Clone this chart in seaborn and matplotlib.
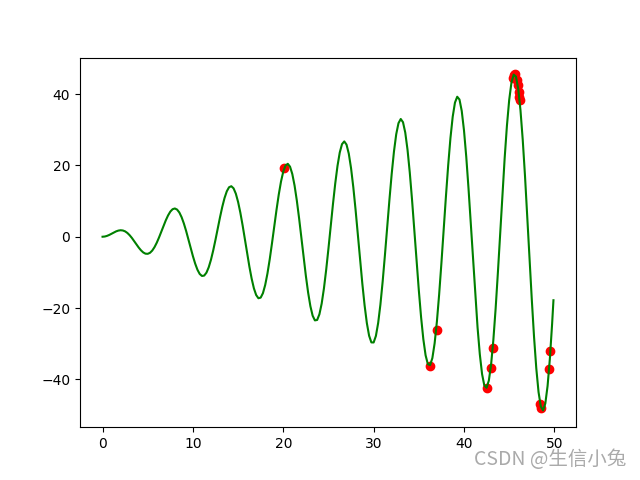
import matplotlib
matplotlib.use("Agg")
import matplotlib.pyplot as plt
import seaborn as sns
import pandas as pd

# curve samples
x_line = [0.0, 0.25, 0.5, 0.75, 1.0, 1.25, 1.5, 1.75, 2.0, 2.25, 2.5, 2.75, 3.0, 3.25, 3.5, 3.75,
          4.0, 4.25, 4.5, 4.75, 5.0, 5.25, 5.5, 5.75, 6.0, 6.25, 6.5, 6.75, 7.0, 7.25, 7.5, 7.75,
          8.0, 8.25, 8.5, 8.75, 9.0, 9.25, 9.5, 9.75, 10.0, 10.25, 10.5, 10.75, 11.0, 11.25, 11.5, 11.75,
          12.0, 12.25, 12.5, 12.75, 13.0, 13.25, 13.5, 13.75, 14.0, 14.25, 14.5, 14.75, 15.0, 15.25, 15.5, 15.75,
          16.0, 16.25, 16.5, 16.75, 17.0, 17.25, 17.5, 17.75, 18.0, 18.25, 18.5, 18.75, 19.0, 19.25, 19.5, 19.75,
          20.0, 20.25, 20.5, 20.75, 21.0, 21.25, 21.5, 21.75, 22.0, 22.25, 22.5, 22.75, 23.0, 23.25, 23.5, 23.75,
          24.0, 24.25, 24.5, 24.75, 25.0, 25.25, 25.5, 25.75, 26.0, 26.25, 26.5, 26.75, 27.0, 27.25, 27.5, 27.75,
          28.0, 28.25, 28.5, 28.75, 29.0, 29.25, 29.5, 29.75, 30.0, 30.25, 30.5, 30.75, 31.0, 31.25, 31.5, 31.75,
          32.0, 32.25, 32.5, 32.75, 33.0, 33.25, 33.5, 33.75, 34.0, 34.25, 34.5, 34.75, 35.0, 35.25, 35.5, 35.75,
          36.0, 36.25, 36.5, 36.75, 37.0, 37.25, 37.5, 37.75, 38.0, 38.25, 38.5, 38.75, 39.0, 39.25, 39.5, 39.75,
          40.0, 40.25, 40.5, 40.75, 41.0, 41.25, 41.5, 41.75, 42.0, 42.25, 42.5, 42.75, 43.0, 43.25, 43.5, 43.75,
          44.0, 44.25, 44.5, 44.75, 45.0, 45.25, 45.5, 45.75, 46.0, 46.25, 46.5, 46.75, 47.0, 47.25, 47.5, 47.75,
          48.0, 48.25, 48.5, 48.75, 49.0, 49.25, 49.5, 49.75, 49.9]
y_line = [0.0, 0.06, 0.24, 0.51, 0.84, 1.19, 1.50, 1.72, 1.82, 1.75, 1.50, 1.05, 0.42, -0.35, -1.23, -2.14,
          -3.03, -3.80, -4.40, -4.75, -4.79, -4.51, -3.88, -2.92, -1.68, -0.21, 1.40, 3.04, 4.60, 5.97, 7.04, 7.71,
          7.92, 7.61, 6.79, 5.47, 3.71, 1.61, -0.71, -3.12, -5.44, -7.53, -9.24, -10.43, -11.00, -10.89, -10.07, -8.56,
          -6.44, -3.81, -0.83, 2.33, 5.46, 8.37, 10.85, 12.73, 13.87, 14.16, 13.56, 12.07, 9.75, 6.74, 3.20, -0.66,
          -4.61, -8.38, -11.74, -14.47, -16.34, -17.24, -17.07, -15.82, -13.52, -10.30, -6.34, -1.86, 2.85, 7.50, 11.81, 15.47,
          18.26, 19.96, 20.44, 19.63, 17.57, 14.35, 10.14, 5.20, -0.20, -5.69, -10.96, -15.65, -19.46, -22.13, -23.45, -23.33,
          -21.73, -18.74, -14.49, -9.24, -3.31, 2.95, 9.16, 14.90, 19.83, 23.60, 25.95, 26.72, 25.82, 23.29, 19.23, 13.89,
          7.59, 0.69, -6.38, -13.17, -19.24, -24.22, -27.76, -29.62, -29.64, -27.81, -24.19, -19.00, -12.52, -5.16, 2.65, 10.41,
          17.64, 23.88, 28.73, 31.83, 33.00, 32.10, 29.19, 24.39, 17.99, 10.37, 1.98, -6.65, -14.99, -22.51, -28.72, -33.23,
          -35.71, -35.98, -34.01, -29.87, -23.81, -16.17, -7.42, 1.92, 11.26, 20.02, 27.64, 33.63, 37.59, 39.24, 38.46, 35.26,
          29.80, 22.42, 13.53, 3.69, -6.50, -16.42, -25.41, -32.95, -38.49, -41.70, -42.33, -40.31, -35.77, -28.91, -20.18, -10.07,
          0.78, 11.70, 22.02, 31.09, 38.29, 43.20, 45.44, 44.87, 41.48, 35.48, 27.18, 17.09, 5.81, -5.94, -17.47, -28.01,
          -36.88, -43.54, -47.58, -48.68, -46.74, -41.82, -34.27, -24.48, -17.8]

# red points
x_pts = [20.05, 36.2, 37.05, 42.5, 42.96, 43.18, 45.37, 45.5, 45.65, 45.85, 45.95, 46.05, 46.12, 46.15,
         48.45, 48.55, 49.42, 49.56]
y_pts = [19.4, -36.1, -26.2, -42.4, -36.7, -31.2, 44.5, 45.4, 45.5, 43.9, 42.5, 40.5, 39.2, 38.4,
         -47.0, -48.1, -37.1, -32.1]

line_df = pd.DataFrame({"x": x_line, "y": y_line})
pts_df = pd.DataFrame({"x": x_pts, "y": y_pts})

fig, ax = plt.subplots(figsize=(6.4, 4.8), dpi=100)
sns.lineplot(data=line_df, x="x", y="y", color="green", linewidth=1.5,
             estimator=None, sort=False, ax=ax, zorder=2)
sns.scatterplot(data=pts_df, x="x", y="y", color="red", edgecolor="red",
                linewidth=1.0, s=36, ax=ax, zorder=1)
ax.set_xlabel("")
ax.set_ylabel("")

fig.text(0.978, 0.020, "CSDN @生信小兔", ha="right", va="bottom", fontsize=14,
         color="#aaaaaa", family=["Noto Sans CJK SC", "DejaVu Sans"])

fig.savefig("out.png", dpi=100)
